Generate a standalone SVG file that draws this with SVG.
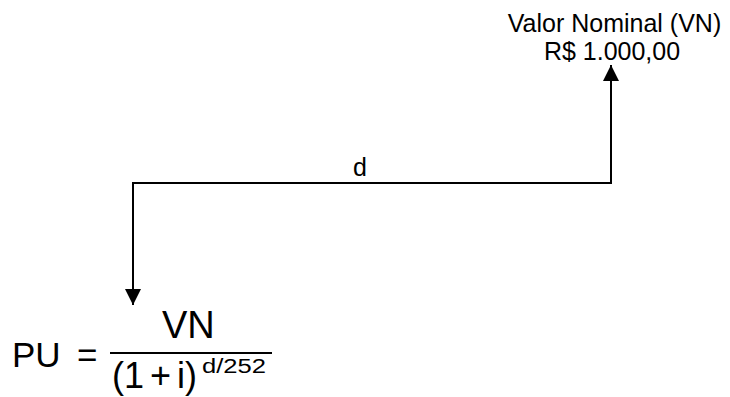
<svg xmlns="http://www.w3.org/2000/svg" width="730" height="397" viewBox="0 0 730 397">
<style>
text{font-family:"Liberation Sans",Arial,sans-serif;fill:#000}
.lbl{font-size:25px;text-anchor:middle}
.f{font-size:35px}
.ln{stroke:#000;stroke-width:2;fill:none}
</style>
<defs>
<marker id="ah" viewBox="0 0 16 16" refX="16" refY="8" markerWidth="16" markerHeight="16" markerUnits="userSpaceOnUse" orient="auto">
<path d="M0,0 L16,8 L0,16 Z" fill="#000"/>
</marker>
</defs>
<rect width="730" height="397" fill="#fff"/>
<g id="connectors">
<path class="ln" d="M611,183 L611,65" marker-end="url(#ah)"/>
<path class="ln" d="M612,183 L133,183 L133,305" marker-end="url(#ah)"/>
<text class="lbl" x="360" y="176">d</text>
</g>
<g id="vn">
<text class="lbl" x="614.5" y="32">Valor Nominal (VN)</text>
<text class="lbl" x="612" y="60">R$ 1.000,00</text>
</g>
<g id="formula">
<text class="f" x="12" y="367">PU</text>
<text class="f" x="77" y="367">=</text>
<text x="162" y="338" font-size="38">VN</text>
<line class="ln" x1="110" y1="353" x2="272" y2="353"/>
<text x="112" y="388" font-size="36">(1<tspan dx="6">+</tspan><tspan dx="6">i)</tspan></text>
<text x="202" y="373" font-size="20" textLength="64" lengthAdjust="spacingAndGlyphs">d/252</text>
</g>
</svg>
